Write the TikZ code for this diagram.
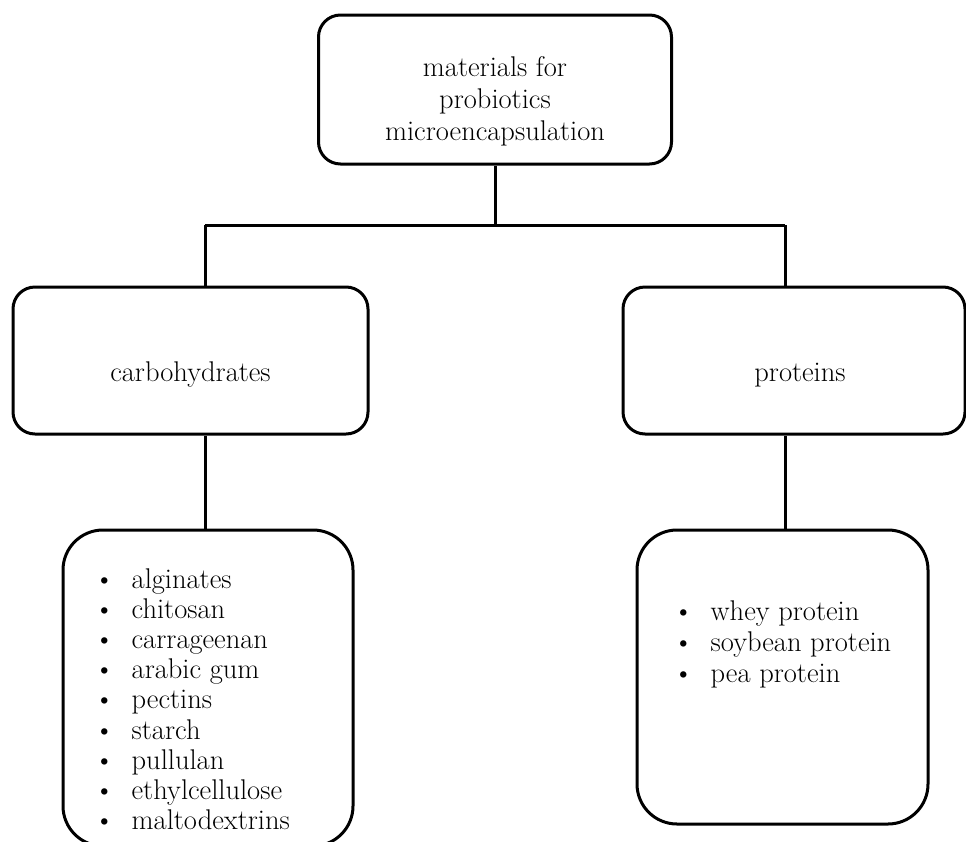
\documentclass[tikz,border=0pt]{standalone}
\usepackage{tikz}
\newcommand{\itm}{\makebox[37.5pt][l]{\textbullet}}

\begin{document}
\begin{tikzpicture}[x=1pt,y=-1pt,
		box/.style={draw,line width=3pt,rounded corners=22pt,inner sep=0pt},
		listbox/.style={box,rounded corners=40pt},
		link/.style={line width=3pt},
		txt/.style={inner sep=0pt,font=\fontsize{28.5}{32}\selectfont}]
		\clip (0,0) rectangle (966,841);
		\node[box,minimum width=353pt,minimum height=149pt] (root) at (495,89.5) {};
		\node[box,minimum width=355pt,minimum height=147pt] (carb) at (190.5,360.5) {};
		\node[box,minimum width=342pt,minimum height=147pt] (prot) at (794,360.5) {};
		\node[listbox,minimum width=290pt,minimum height=316pt] (carblist) at (208,688) {};
		\node[listbox,minimum width=291pt,minimum height=294pt] (protlist) at (782.5,677) {};
		\node[txt,align=center] (roottxt) at ([yshift=-12pt]root.center)
			{materials for\\probiotics\\microencapsulation};
		\node[txt,anchor=base] (carbtxt) at ([yshift=-20.5pt]carb.center) {carbohydrates};
		\node[txt,anchor=base] (prottxt) at ([xshift=6pt,yshift=-20.5pt]prot.center) {proteins};
		\node[txt,font=\fontsize{28.5}{30.2}\selectfont,align=left,anchor=north west] (carbitems) at (94,568.2)
			{\itm alginates\\\itm chitosan\\\itm carrageenan\\\itm arabic gum\\\itm pectins\\
			\itm starch\\\itm pullulan\\\itm ethylcellulose\\\itm maltodextrins};
		\node[txt,font=\fontsize{28.5}{30.8}\selectfont,align=left,anchor=north west] (protitems) at (673,600.5)
			{\itm whey protein\\\itm soybean protein\\\itm pea protein};
		\coordinate (fork) at (495,225);
		\coordinate (forkl) at (205,225);
		\coordinate (forkr) at (785,225);
		\draw[link] (root.south) -- (fork);
		\draw[link] (forkl) -- (forkr);
		\draw[link] (forkl) -- (forkl |- carb.north);
		\draw[link] (forkr) -- (forkr |- prot.north);
		\draw[link] (forkl |- carb.south) -- (forkl |- carblist.north);
		\draw[link] (forkr |- prot.south) -- (forkr |- protlist.north);
\end{tikzpicture}
\end{document}
